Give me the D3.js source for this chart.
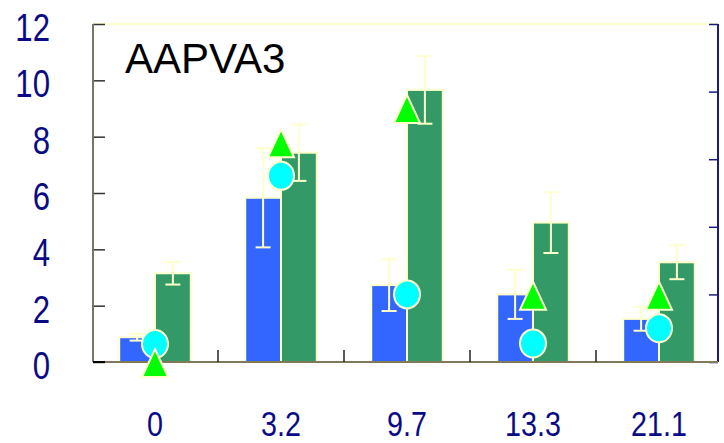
<!DOCTYPE html>
<html>
<head>
<meta charset="utf-8">
<script src="https://cdn.jsdelivr.net/npm/d3@7"></script>
<style>
  html, body { margin: 0; padding: 0; background: #ffffff; }
  svg { display: block; }
  .num { font-family: "Liberation Sans", Arial, sans-serif; fill: #0a0a85; }
</style>
</head>
<body>
<div id="chart"></div>
<script>
// Dose groups and measured values
const categories = ["0", "3.2", "9.7", "13.3", "21.1"];
const blueValues = [0.88, 5.83, 2.73, 2.40, 1.53];
const blueErrors = [0.12, 1.76, 0.92, 0.87, 0.42];
const greenValues = [3.15, 7.43, 9.66, 4.95, 3.54];
const greenErrors = [0.40, 1.00, 1.20, 1.08, 0.60];
const circleValues = [0.64, 6.61, 2.40, 0.66, 1.20];
const triangleValues = [0.00, 7.80, 9.02, 2.39, 2.39];
const leftTicks = [0, 2, 4, 6, 8, 10, 12];
const rightTicks = [0, 1, 2, 3, 4, 5];
const title = "AAPVA3";

const W = 724, H = 443;
const plotLeft = 93, plotRight = 718, plotTop = 24, plotBottom = 362;
const narrow = 0.82; // horizontal squeeze for the condensed number labels

const svg = d3.select("#chart").append("svg")
  .attr("width", W).attr("height", H);

const x = d3.scaleBand().domain(categories).range([92, 722]).padding(0);
const sub = d3.scaleBand().domain(["blue", "green"])
  .range([0, x.bandwidth()]).paddingInner(0).paddingOuter(0.76);
const y = d3.scaleLinear().domain([0, 12]).range([plotBottom, plotTop]);
const y2 = d3.scaleLinear().domain([0, 5]).range([plotBottom, plotTop]);

const pale = "#ffffcc";

// frame: top edge
svg.append("line")
  .attr("x1", plotLeft).attr("x2", plotRight).attr("y1", plotTop).attr("y2", plotTop)
  .attr("stroke", pale).attr("stroke-width", 2);

// bars
const series = [
  { key: "blue", values: blueValues, errors: blueErrors, color: "#3366ff" },
  { key: "green", values: greenValues, errors: greenErrors, color: "#339966" }
];

series.forEach(s => {
  svg.append("g").selectAll("rect")
    .data(categories)
    .join("rect")
    .attr("x", d => x(d) + sub(s.key))
    .attr("width", sub.bandwidth())
    .attr("y", (d, i) => y(s.values[i]))
    .attr("height", (d, i) => y(0) - y(s.values[i]))
    .attr("fill", s.color)
    .attr("stroke", pale)
    .attr("stroke-width", 2);
});

// error bars
series.forEach(s => {
  const g = svg.append("g").attr("stroke", pale).attr("stroke-width", 2);
  categories.forEach((c, i) => {
    const cx = x(c) + sub(s.key) + sub.bandwidth() / 2;
    const hi = y(s.values[i] + s.errors[i]);
    const lo = y(s.values[i] - s.errors[i]);
    g.append("line").attr("x1", cx).attr("x2", cx).attr("y1", hi).attr("y2", lo);
    g.append("line").attr("x1", cx - 7.5).attr("x2", cx + 7.5).attr("y1", hi).attr("y2", hi);
    g.append("line").attr("x1", cx - 7.5).attr("x2", cx + 7.5).attr("y1", lo).attr("y2", lo);
  });
});

// axes
const axisLeft = svg.append("g").attr("transform", `translate(${plotLeft},0)`)
  .call(d3.axisRight(y).tickValues(leftTicks).tickSize(12).tickFormat(""));
axisLeft.select(".domain").remove();
axisLeft.selectAll(".tick line").attr("stroke", "#333333").attr("stroke-width", 1.5);
svg.append("line")
  .attr("x1", plotLeft).attr("x2", plotLeft).attr("y1", plotTop).attr("y2", plotBottom)
  .attr("stroke", "#77745f").attr("stroke-width", 2);

const axisRight = svg.append("g").attr("transform", `translate(${plotRight},0)`)
  .call(d3.axisLeft(y2).tickValues(rightTicks).tickSize(9).tickFormat(""));
axisRight.select(".domain").remove();
axisRight.selectAll(".tick line").attr("stroke", "#1a1a80").attr("stroke-width", 1.5);
svg.append("line")
  .attr("x1", plotRight).attr("x2", plotRight).attr("y1", plotTop).attr("y2", plotBottom)
  .attr("stroke", "#1a1a80").attr("stroke-width", 2);

// bottom axis line with dividers between groups
svg.append("line")
  .attr("x1", plotLeft).attr("x2", plotRight).attr("y1", plotBottom).attr("y2", plotBottom)
  .attr("stroke", "#807a5a").attr("stroke-width", 2);
svg.append("line")
  .attr("x1", plotLeft).attr("x2", plotLeft + 12).attr("y1", plotBottom).attr("y2", plotBottom)
  .attr("stroke", "#000000").attr("stroke-width", 2);
svg.append("g").selectAll("line")
  .data(categories.slice(1))
  .join("line")
  .attr("x1", d => x(d)).attr("x2", d => x(d))
  .attr("y1", plotBottom).attr("y2", plotBottom - 12)
  .attr("stroke", "#222222").attr("stroke-width", 1.5);

// circle markers
svg.append("g").selectAll("ellipse")
  .data(categories)
  .join("ellipse")
  .attr("cx", d => x(d) + x.bandwidth() / 2)
  .attr("cy", (d, i) => y(circleValues[i]))
  .attr("rx", 13).attr("ry", 14)
  .attr("fill", "#00ffff")
  .attr("stroke", pale).attr("stroke-width", 2);

// triangle markers
svg.append("g").selectAll("path")
  .data(categories)
  .join("path")
  .attr("d", (d, i) => {
    const cx = x(d) + x.bandwidth() / 2;
    const cy = y(triangleValues[i]);
    return `M${cx},${cy - 13} L${cx + 13},${cy + 15} L${cx - 13},${cy + 15} Z`;
  })
  .attr("fill", "#00ff00")
  .attr("stroke", pale).attr("stroke-width", 2)
  .attr("stroke-linejoin", "miter");

// tick labels (condensed by a horizontal scale)
svg.append("g").selectAll("text")
  .data(leftTicks)
  .join("text")
  .attr("class", "num")
  .attr("transform", d => `translate(50,${y(d) + 17}) scale(${narrow},1)`)
  .attr("text-anchor", "end")
  .attr("font-size", 38)
  .text(d => d);

svg.append("g").selectAll("text")
  .data(categories)
  .join("text")
  .attr("class", "num")
  .attr("transform", d => `translate(${x(d) + x.bandwidth() / 2},435.5) scale(${narrow},1)`)
  .attr("text-anchor", "middle")
  .attr("font-size", 35)
  .text(d => d);

// title
svg.append("text")
  .attr("x", 125).attr("y", 73)
  .attr("font-family", "'Liberation Sans', Arial, sans-serif")
  .attr("font-size", 42)
  .attr("fill", "#000000")
  .text(title);
</script>
</body>
</html>
